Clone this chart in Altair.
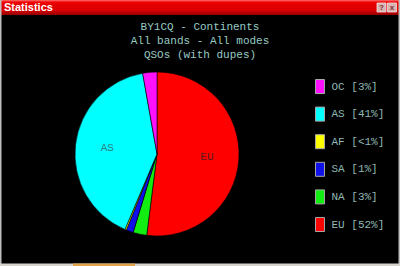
import altair as alt
import pandas as pd

# Continent shares of QSOs, listed clockwise from 12 o'clock
codes = ["EU", "NA", "SA", "AF", "AS", "OC"]
shares = [52.0, 2.7, 1.4, 0.3, 40.8, 2.8]
slice_colors = ["#ff0000", "#12ee12", "#1010e8", "#ffff00", "#00ffff", "#ff10ff"]

# Legend lists the continents in this order
legend_order = ["OC", "AS", "AF", "SA", "NA", "EU"]

title_lines = ["BY1CQ - Continents", "All bands - All modes", "QSOs (with dupes)"]
window_title = "Statistics"

TEXT_FONT = "Liberation Mono"
TEXT_COLOR = "#98ccc4"


def pct_label(v):
    return "<1%" if v < 1 else f"{round(v)}%"


df = pd.DataFrame({
    "code": codes,
    "share": shares,
    "idx": list(range(len(codes))),
})
df["entry"] = [f"{c} [{pct_label(v)}]" for c, v in zip(codes, shares)]
df["pie_label"] = [c if v >= 10 else "" for c, v in zip(codes, shares)]

color_of = dict(zip(codes, slice_colors))
entry_of = dict(zip(codes, df["entry"]))
legend_domain = [entry_of[c] for c in legend_order]
legend_range = [color_of[c] for c in legend_order]

CX, CY, R = 157, 154, 82

base = alt.Chart(df).encode(
    theta=alt.Theta("share:Q", stack=True),
    order=alt.Order("idx:Q", sort="ascending"),
)

pie = base.mark_arc(outerRadius=R, stroke="#000000", strokeWidth=0.6).encode(
    x=alt.value(CX),
    y=alt.value(CY),
    color=alt.Color(
        "entry:N",
        scale=alt.Scale(domain=legend_domain, range=legend_range),
        legend=alt.Legend(
            orient="none",
            legendX=312.5,
            legendY=79,
            title=None,
            padding=0,
            symbolType="M-0.64,-1H0.64V1H-0.64Z",
            symbolSize=196,
            symbolStrokeColor="#a8a8a8",
            symbolStrokeWidth=1,
            symbolOpacity=1,
            labelFont=TEXT_FONT,
            labelFontSize=11,
            labelColor="#8fb8b2",
            labelOffset=4,
            rowPadding=8.6,
        ),
    ),
)

pie_labels = base.mark_text(
    radius=50, font=TEXT_FONT, fontSize=11, align="center", baseline="middle"
).encode(
    x=alt.value(CX),
    y=alt.value(CY),
    detail="code:N",
    text="pie_label:N",
    color=alt.condition(alt.datum.code == "EU", alt.value("#5c1a1a"), alt.value("#2a8484")),
)

one = pd.DataFrame({"k": [0]})
deco = alt.Chart(one)

# Window chrome: title bar, caption buttons, frame and status strip
title_bar = deco.mark_rect(
    fill=alt.Gradient(
        gradient="linear",
        x1=0, x2=0, y1=0, y2=1,
        stops=[
            alt.GradientStop(color="#ff7070", offset=0),
            alt.GradientStop(color="#ee0000", offset=0.15),
            alt.GradientStop(color="#d80000", offset=0.7),
            alt.GradientStop(color="#900000", offset=1),
        ],
    )
).encode(x=alt.value(0), x2=alt.value(400), y=alt.value(0), y2=alt.value(15))

caption = deco.mark_text(
    font="Liberation Sans", fontSize=11, fontWeight="bold", color="#ffffff",
    align="left", baseline="middle",
).encode(x=alt.value(4), y=alt.value(8), text=alt.value(window_title))

btn_help = deco.mark_rect(fill="#d9b4b4", stroke="#f0e0e0", strokeWidth=0.8).encode(
    x=alt.value(377), x2=alt.value(386), y=alt.value(3), y2=alt.value(12)
)
btn_close = deco.mark_rect(fill="#d9b4b4", stroke="#f0e0e0", strokeWidth=0.8).encode(
    x=alt.value(387.5), x2=alt.value(396.5), y=alt.value(3), y2=alt.value(12)
)
btn_help_txt = deco.mark_text(
    font="Liberation Sans", fontSize=8, fontWeight="bold", color="#803030",
    align="center", baseline="middle",
).encode(x=alt.value(381.5), y=alt.value(7.8), text=alt.value("?"))
btn_close_txt = deco.mark_text(
    font="Liberation Sans", fontSize=8, fontWeight="bold", color="#803030",
    align="center", baseline="middle",
).encode(x=alt.value(392), y=alt.value(7.8), text=alt.value("x"))

frame_left = deco.mark_rect(fill="#bdbdbd").encode(
    x=alt.value(0), x2=alt.value(1.5), y=alt.value(0), y2=alt.value(266)
)
frame_right = deco.mark_rect(fill="#bdbdbd").encode(
    x=alt.value(398.5), x2=alt.value(400), y=alt.value(0), y2=alt.value(266)
)
status_strip = deco.mark_rect(fill="#d6d3cc").encode(
    x=alt.value(0), x2=alt.value(400), y=alt.value(263.5), y2=alt.value(266)
)
status_tab = deco.mark_rect(fill="#e2a24a").encode(
    x=alt.value(73), x2=alt.value(135), y=alt.value(263.5), y2=alt.value(266)
)

heading = deco.mark_text(
    font=TEXT_FONT, fontSize=11, color=TEXT_COLOR, align="center",
    baseline="middle", lineHeight=14,
).encode(x=alt.value(200), y=alt.value(26.5), text=alt.value(title_lines))

chart = alt.layer(
    pie, pie_labels, heading,
    title_bar, caption, btn_help, btn_close, btn_help_txt, btn_close_txt,
    frame_left, frame_right, status_strip, status_tab,
).properties(
    width=400, height=266,
    autosize=alt.AutoSizeParams(type="none"),
    padding=0,
    background="#000000",
).configure_view(stroke=None)

chart.save("out.html", embed_options={"renderer": "svg", "actions": False})
